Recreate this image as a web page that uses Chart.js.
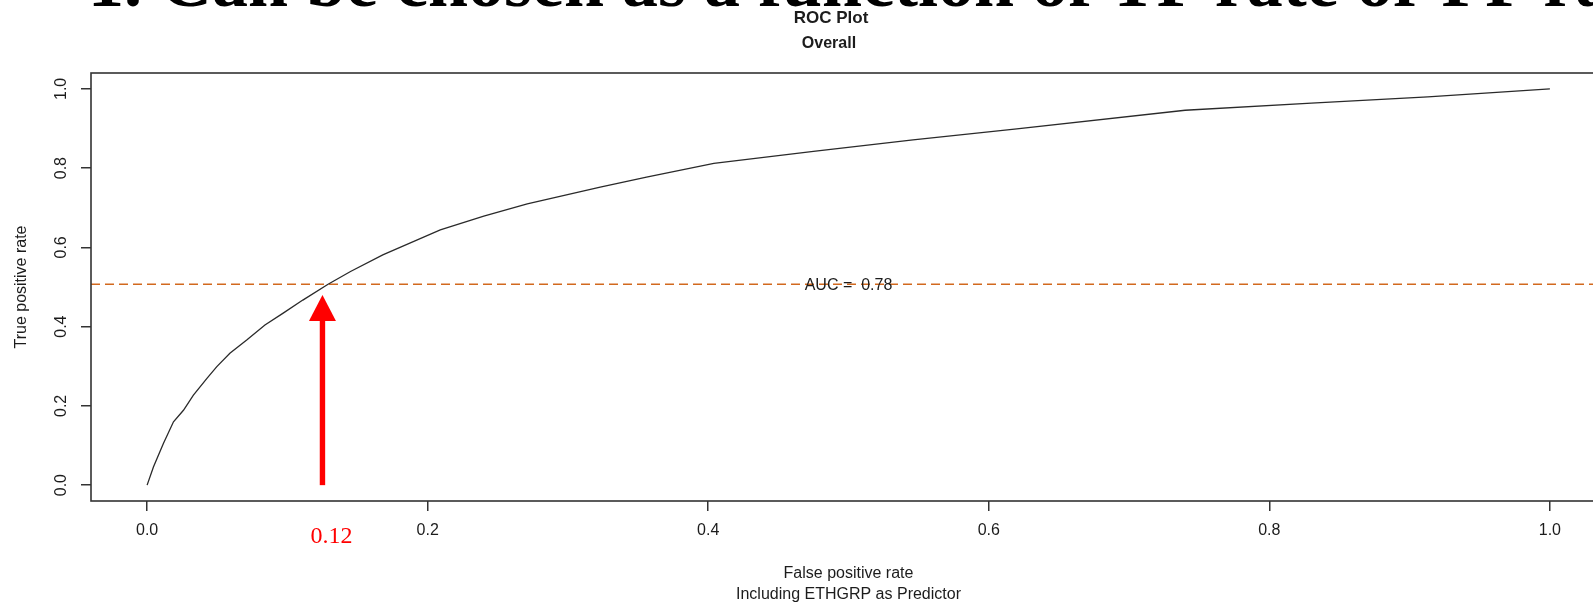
<!DOCTYPE html>
<html>
<head>
<meta charset="utf-8">
<title>ROC Plot</title>
<script src="https://cdn.jsdelivr.net/npm/chart.js@4.4.1/dist/chart.umd.min.js"></script>
<style>
html, body { margin: 0; padding: 0; background: #fff; }
#wrap { position: relative; width: 1593px; height: 603px; overflow: hidden; }
#headline { position: absolute; left: 88px; top: -59px; font: bold 72px "Liberation Serif", serif; color: #000; white-space: nowrap; }
#roc { position: absolute; left: 0; top: 0; }
</style>
</head>
<body>
<div id="wrap">
  <canvas id="roc" width="1620" height="603"></canvas>
  <div id="headline">1. Can be chosen as a function of TP rate or FP rate</div>
</div>
<script>
// ROC curve points
const fpr = [0, 0.0045, 0.0116, 0.0188, 0.0259, 0.033, 0.0425, 0.0497, 0.059, 0.071, 0.084, 0.097, 0.111, 0.129, 0.145, 0.168, 0.209, 0.240, 0.271, 0.323, 0.356, 0.404, 0.475, 0.546, 0.62, 0.74, 0.83, 0.913, 1.0]
const tpr = [0, 0.046, 0.105, 0.16, 0.189, 0.227, 0.269, 0.299, 0.333, 0.366, 0.404, 0.434, 0.467, 0.507, 0.539, 0.581, 0.644, 0.679, 0.710, 0.752, 0.777, 0.812, 0.842, 0.871, 0.899, 0.946, 0.964, 0.980, 1.0]

const xTicks = [0, 0.2, 0.4, 0.6, 0.8, 1.0]
const yTicks = [0, 0.2, 0.4, 0.6, 0.8, 1.0]
const xLabels = ['0.0', '0.2', '0.4', '0.6', '0.8', '1.0']
const yLabels = ['0.0', '0.2', '0.4', '0.6', '0.8', '1.0']

const cutTpr = 0.507      // dashed line
const arrowFpr = 0.125    // red arrow position
const arrowTo = 0.48
const arrowText = '0.12'
const aucText = 'AUC =  0.78'
const aucAt = 0.5

const titleLines = ['ROC Plot', 'Overall']
const xTitleLines = ['False positive rate', 'Including ETHGRP as Predictor']
const yTitle = 'True positive rate'

const sans = '"Liberation Sans", Arial, sans-serif'
const ink = '#1c1c1c'

const curve = fpr.map((v, i) => ({x: v, y: tpr[i]}))

const rPlot = {
    id: 'rPlot',
    afterDatasetsDraw(chart) {
        const ctx = chart.ctx
        const a = chart.chartArea
        const xs = chart.scales.x, ys = chart.scales.y
        ctx.save()
        // box
        ctx.strokeStyle = '#333'
        ctx.lineWidth = 1.6
        ctx.strokeRect(a.left, a.top, a.right - a.left, a.bottom - a.top)

        // AUC label
        ctx.fillStyle = ink
        ctx.font = '16px ' + sans
        ctx.textAlign = 'center'
        ctx.textBaseline = 'middle'
        ctx.fillText(aucText, xs.getPixelForValue(aucAt), ys.getPixelForValue(cutTpr) + 1)

        // red arrow
        const ax = xs.getPixelForValue(arrowFpr)
        const y0 = ys.getPixelForValue(0)
        const y1 = ys.getPixelForValue(arrowTo)
        ctx.fillStyle = '#ff0000'
        ctx.fillRect(ax - 2.7, y1 + 24, 5.4, y0 - y1 - 24)
        ctx.beginPath()
        ctx.moveTo(ax, y1)
        ctx.lineTo(ax + 13.5, y1 + 26)
        ctx.lineTo(ax - 13.5, y1 + 26)
        ctx.closePath()
        ctx.fill()

        ctx.font = '24px "Liberation Serif", "Times New Roman", serif'
        ctx.fillText(arrowText, ax + 9, 537)

        // y tick labels, rotated like R
        ctx.fillStyle = ink
        ctx.font = '16px ' + sans
        yTicks.forEach((v, i) => {
            ctx.save()
            ctx.translate(62, ys.getPixelForValue(v))
            ctx.rotate(-Math.PI / 2)
            ctx.fillText(yLabels[i], 0, 0)
            ctx.restore()
        })

        // titles
        const cx = (a.left + a.right) / 2
        ctx.font = 'bold 17px ' + sans
        ctx.fillText(titleLines[0], 831, 18)
        ctx.font = 'bold 16px ' + sans
        ctx.fillText(titleLines[1], 829, 44)
        ctx.font = '16px ' + sans
        ctx.fillText(xTitleLines[0], cx, 574)
        ctx.fillText(xTitleLines[1], cx, 595)
        ctx.save()
        ctx.translate(22, (a.top + a.bottom) / 2)
        ctx.rotate(-Math.PI / 2)
        ctx.fillText(yTitle, 0, 0)
        ctx.restore()
        ctx.restore()
    }
}

new Chart(document.getElementById('roc'), {
    type: 'scatter',
    data: {
        datasets: [
            {
                data: curve,
                showLine: true,
                borderColor: '#2a2a2a',
                borderWidth: 1.3,
                pointRadius: 0,
                tension: 0
            },
            {
                data: [{x: -0.04, y: cutTpr}, {x: 1.04, y: cutTpr}],
                showLine: true,
                borderColor: '#d2691e',
                borderWidth: 1.3,
                borderDash: [9, 5],
                pointRadius: 0
            }
        ]
    },
    options: {
        responsive: false,
        animation: false,
        layout: { padding: { top: 73, left: 0, right: 14, bottom: 0 } },
        plugins: { legend: { display: false }, tooltip: { enabled: false }, title: { display: false } },
        scales: {
            x: {
                type: 'linear',
                min: -0.04,
                max: 1.04,
                afterBuildTicks: s => { s.ticks = xTicks.map(v => ({value: v})) },
                afterFit: s => { s.height = 102 },
                border: { display: false },
                grid: { drawOnChartArea: false, drawTicks: true, tickLength: 10, color: '#333', lineWidth: 1.5 },
                ticks: {
                    color: ink,
                    font: { family: sans, size: 16 },
                    padding: 10,
                    maxRotation: 0,
                    callback: (v) => xLabels[xTicks.indexOf(v)]
                }
            },
            y: {
                type: 'linear',
                min: -0.04,
                max: 1.04,
                afterBuildTicks: s => { s.ticks = yTicks.map(v => ({value: v})) },
                afterFit: s => { s.width = 91 },
                border: { display: false },
                grid: { drawOnChartArea: false, drawTicks: true, tickLength: 10, color: '#333', lineWidth: 1.5 },
                ticks: { display: false }
            }
        }
    },
    plugins: [rPlot]
})
</script>
</body>
</html>
